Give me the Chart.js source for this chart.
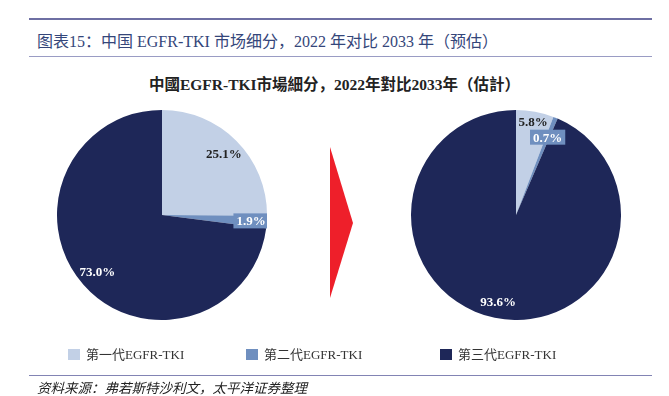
<!DOCTYPE html>
<html>
<head>
<meta charset="utf-8">
<script src="https://cdn.jsdelivr.net/npm/chart.js@4.4.0/dist/chart.umd.min.js"></script>
<style>
  body { margin: 0; width: 669px; height: 396px; background: #fff; position: relative; overflow: hidden;
         font-family: "Liberation Serif", "Noto Sans CJK SC", serif; }
  .abs { position: absolute; }
  #topLine { left: 29px; top: 18px; width: 623px; height: 2px; background: #6e6fa3; }
  #midLine { left: 29px; top: 56px; width: 623px; height: 1px; background: #9a9cc4; }
  #botLine { left: 29px; top: 375px; width: 623px; height: 1px; background: #8284b4; }
  #header { left: 37px; top: 28px; font-size: 16px; color: #34467a; white-space: nowrap; }
  #title { left: 0; width: 669px; top: 72px; text-align: center; font-size: 15.5px; font-weight: bold; color: #222; white-space: nowrap; }
  #source { left: 37px; top: 377px; font-size: 13.5px; font-style: italic; color: #222; white-space: nowrap; }
  #legend { left: 0; top: 344px; width: 669px; height: 18px; font-size: 13px; color: #333; }
  .item { position: absolute; top: 0; white-space: nowrap; }
  .sw { display: inline-block; width: 12px; height: 11px; vertical-align: -1px; margin-right: 6px; }
  canvas { position: absolute; }
</style>
</head>
<body>
<div class="abs" id="topLine"></div>
<div class="abs" id="header">图表15：中国 EGFR-TKI 市场细分，2022 年对比 2033 年（预估）</div>
<div class="abs" id="midLine"></div>
<div class="abs" id="title">中國EGFR-TKI市場細分，2022年對比2033年（估計）</div>

<div class="abs" style="left:57px;top:110px;width:210px;height:210px;"><canvas id="pie2022"></canvas></div>
<div class="abs" style="left:411px;top:110px;width:210px;height:210px;"><canvas id="pie2033"></canvas></div>

<svg class="abs" style="left:0;top:0;" width="669" height="396">
  <polygon points="330,147 353,223 330,298" fill="#ee1f2a"></polygon>
</svg>

<div class="abs" id="legend"></div>
<div class="abs" id="botLine"></div>
<div class="abs" id="source">资料来源：弗若斯特沙利文，太平洋证券整理</div>

<script>
// categories and values
const categories = ["第一代EGFR-TKI", "第二代EGFR-TKI", "第三代EGFR-TKI"];
const share2022 = [25.1, 1.9, 73.0];
const share2033 = [5.8, 0.7, 93.6];

const colors = ["#c2d0e6", "#6f8fbf", "#1e2758"];
const labelColors = ["#222222", "#ffffff", "#ffffff"];

// Draw percent labels inside slices, small slices get a filled box
const pieLabels = {
  id: "pieLabels",
  afterDatasetsDraw(chart, args, opts) {
    const ctx = chart.ctx;
    const meta = chart.getDatasetMeta(0);
    const values = chart.data.datasets[0].data;
    ctx.save();
    ctx.font = "bold 13px 'Liberation Serif', serif";
    ctx.textAlign = "center";
    ctx.textBaseline = "middle";
    meta.data.forEach(function (arc, i) {
      const p = arc.getProps(["x", "y", "startAngle", "endAngle", "outerRadius"], true);
      const mid = (p.startAngle + p.endAngle) / 2;
      const r = p.outerRadius * opts.radius[i];
      const x = p.x + Math.cos(mid) * r;
      const y = p.y + Math.sin(mid) * r;
      const text = values[i].toFixed(1) + "%";
      if (values[i] < 3) {
        const w = ctx.measureText(text).width + 6;
        ctx.fillStyle = colors[1];
        ctx.fillRect(x - w / 2, y - 7.5, w, 15);
      }
      ctx.fillStyle = labelColors[i];
      ctx.fillText(text, x, y + 1);
    });
    ctx.restore();
  }
};

function makePie(id, values, labelRadius) {
  new Chart(document.getElementById(id), {
    type: "pie",
    data: {
      labels: categories,
      datasets: [{
        data: values,
        backgroundColor: colors,
        borderWidth: 0,
        hoverOffset: 0
      }]
    },
    options: {
      responsive: true,
      maintainAspectRatio: false,
      animation: false,
      layout: { padding: 0 },
      plugins: {
        legend: { display: false },
        tooltip: { enabled: false },
        pieLabels: { radius: labelRadius }
      }
    },
    plugins: [pieLabels]
  });
}

makePie("pie2022", share2022, [0.83, 0.85, 0.82]);
makePie("pie2033", share2033, [0.9, 0.8, 0.84]);

// Legend below both pies
const legendX = [68, 246, 440];
const legend = document.getElementById("legend");
categories.forEach(function (c, i) {
  const item = document.createElement("div");
  item.className = "item";
  item.style.left = legendX[i] + "px";
  item.innerHTML = '<span class="sw" style="background:' + colors[i] + '"></span>' + c;
  legend.appendChild(item);
});
</script>
</body>
</html>
